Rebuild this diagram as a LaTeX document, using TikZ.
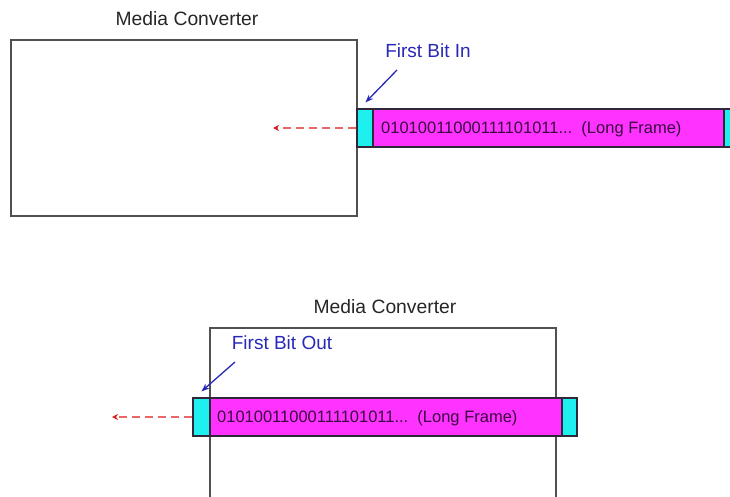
\documentclass[tikz,border=0pt]{standalone}
\usepackage{fontspec}
\setmainfont{Liberation Sans}
\usetikzlibrary{arrows.meta}
\definecolor{mag}{HTML}{FF33FF}
\definecolor{cy}{HTML}{1EF0F0}
\definecolor{boxline}{HTML}{505050}
\definecolor{frline}{HTML}{302838}
\definecolor{bl}{HTML}{2828B8}
\definecolor{rd}{HTML}{E86868}
\definecolor{rdtip}{HTML}{D02020}
\definecolor{bits}{HTML}{3A0A40}
\tikzset{
  mcbox/.style={draw=boxline, line width=1.3pt, fill=white, inner sep=0pt},
  title/.style={font=\fontsize{19.3}{22}\selectfont, text=black!85, inner sep=0pt},
  cyanpart/.style={draw=frline, line width=1.1pt, fill=cy, inner sep=0pt, minimum height=38pt},
  magpart/.style={draw=frline, line width=1.1pt, fill=mag, inner sep=0pt, minimum height=38pt},
  bitstxt/.style={font=\fontsize{16.5}{19}\selectfont, text=bits, inner sep=0pt, anchor=west},
  bluelab/.style={font=\fontsize{19}{22}\selectfont, text=bl, inner sep=0pt},
  bluearr/.style={draw=bl, line width=1.3pt, -{Stealth[length=8pt,width=6pt]}},
  redarr/.style={draw=rd, line width=2pt, dash pattern=on 8pt off 5pt, -{Stealth[length=6pt,width=6pt,color=rdtip,fill=rdtip]}}
}
\begin{document}
\begin{tikzpicture}[x=1pt,y=-1pt]
\useasboundingbox (0,0) rectangle (730,497);
\clip (0,0) rectangle (730,497);
% ---- top ----
\node[title] (t1) at (187,19) {Media Converter};
\node[mcbox, minimum width=346pt, minimum height=176pt] (mc1) at (184,128) {};
\node[cyanpart, minimum width=16pt] (c1a) at (365,128) {};
\node[magpart, minimum width=351pt] (m1) at (548.5,128) {};
\node[cyanpart, minimum width=16pt] (c1b) at (732,128) {};
\node[bitstxt] (b1) at (381,129) {01010011000111101011...\ \ (Long Frame)};
\coordinate (r1e) at (273,128);
\draw[redarr] (c1a.west) -- (r1e);
\node[bluelab] (l1) at (428,51) {First Bit In};
\coordinate (a1s) at (397,70);
\draw[bluearr] (a1s) -- ([xshift=9pt,yshift=6pt]c1a.north west);
% ---- bottom ----
\node[title] (t2) at (385,307) {Media Converter};
\draw[boxline, line width=1.3pt] (210,500) -- (210,328) -- (556,328) -- (556,500);
\node[cyanpart, minimum width=17pt] (c2a) at (201.5,417) {};
\node[magpart, minimum width=352pt] (m2) at (386,417) {};
\node[cyanpart, minimum width=15pt] (c2b) at (569.5,417) {};
\node[bitstxt] (b2) at (217,418) {01010011000111101011...\ \ (Long Frame)};
\coordinate (r2e) at (112,417);
\draw[redarr] (c2a.west) -- (r2e);
\node[bluelab] (l2) at (282,343) {First Bit Out};
\coordinate (a2s) at (235,362);
\draw[bluearr] (a2s) -- ([xshift=9pt,yshift=6pt]c2a.north west);
\end{tikzpicture}
\end{document}
